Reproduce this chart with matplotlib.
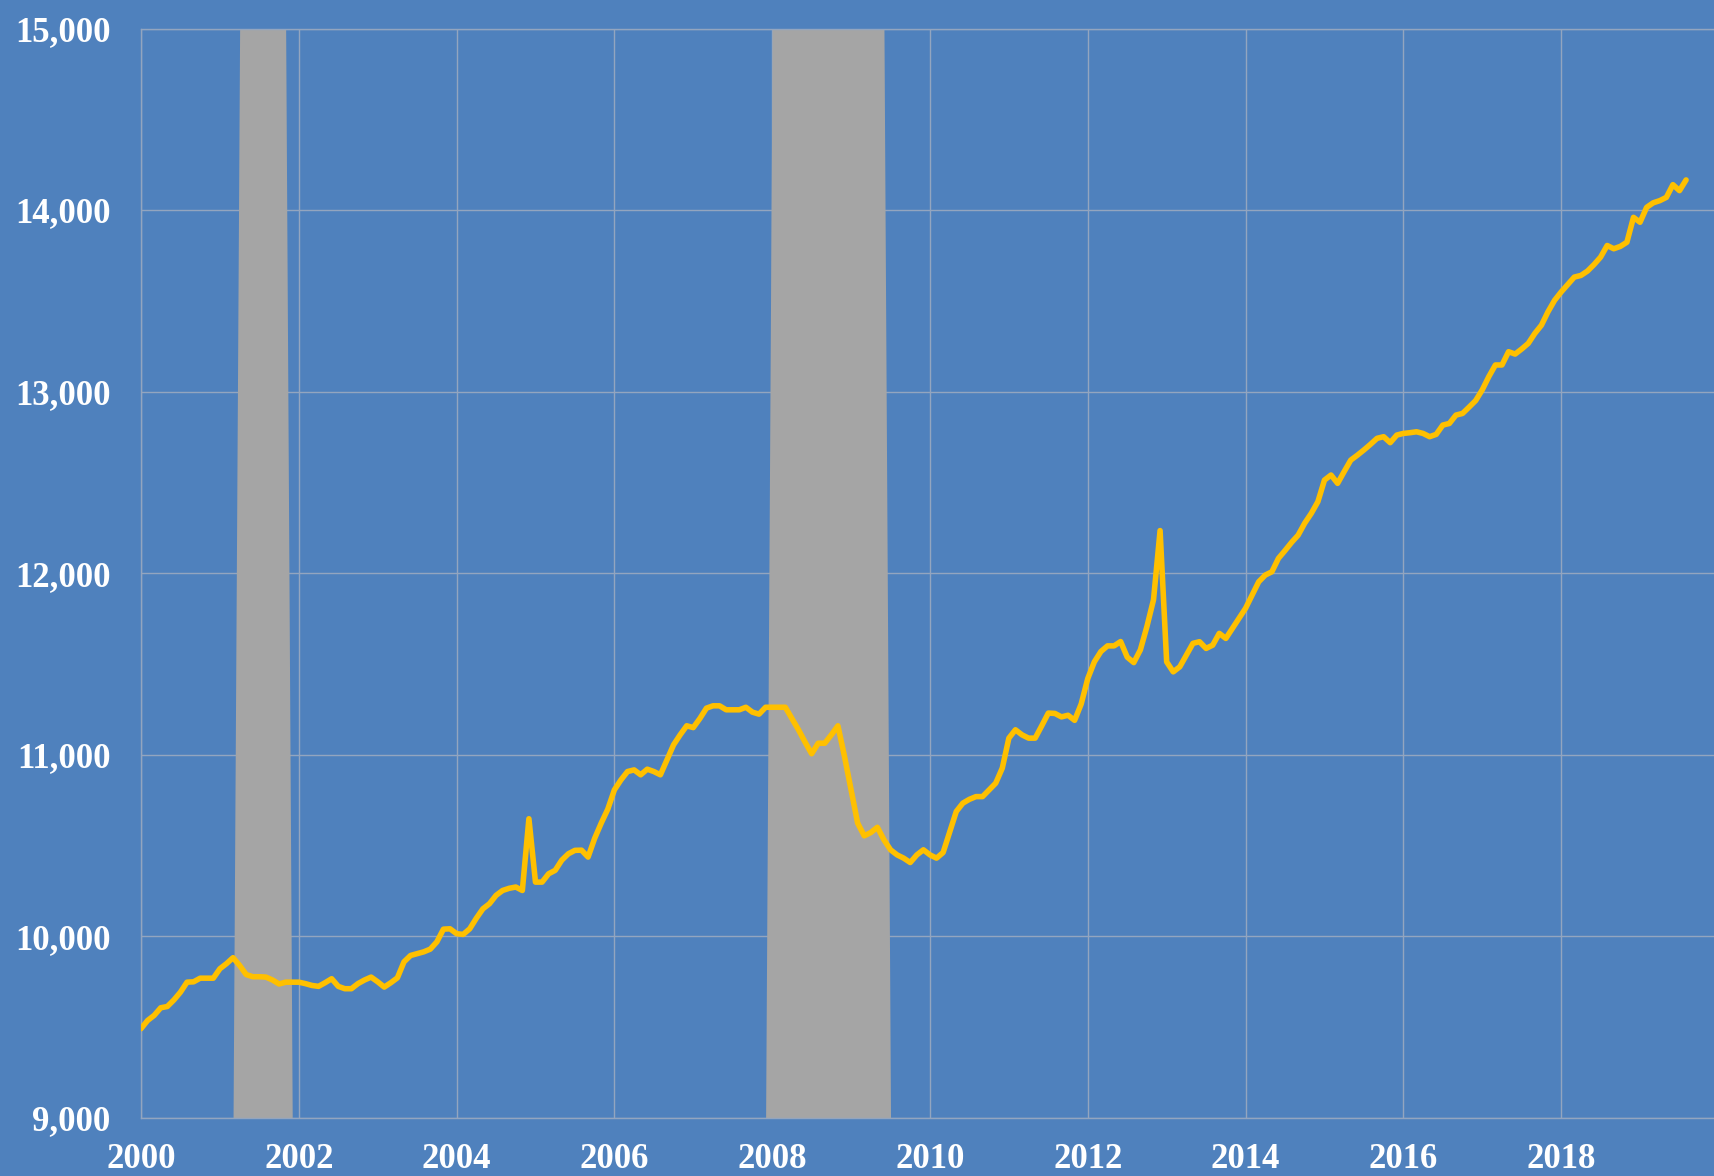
import matplotlib
matplotlib.use('Agg')
import matplotlib.pyplot as plt
from matplotlib.ticker import FuncFormatter
import numpy as np

# monthly values, Jan 2000 .. Aug 2019
y2000 = [9492, 9537, 9565, 9607, 9614, 9650, 9693, 9748, 9750, 9770, 9770, 9770]
y2001 = [9822, 9850, 9883, 9840, 9790, 9778, 9778, 9776, 9760, 9738, 9748, 9748]
y2002 = [9748, 9740, 9730, 9725, 9745, 9767, 9725, 9712, 9712, 9740, 9760, 9776]
y2003 = [9750, 9721, 9745, 9772, 9860, 9895, 9905, 9915, 9930, 9970, 10040, 10042]
y2004 = [10015, 10011, 10042, 10100, 10152, 10180, 10226, 10253, 10265, 10272, 10253, 10648]
y2005 = [10299, 10299, 10345, 10364, 10420, 10455, 10474, 10475, 10437, 10540, 10624, 10701]
y2006 = [10807, 10862, 10908, 10917, 10890, 10921, 10908, 10890, 10972, 11055, 11110, 11160]
y2007 = [11150, 11200, 11257, 11270, 11270, 11248, 11248, 11248, 11262, 11235, 11224, 11262]
y2008 = [11262, 11262, 11262, 11200, 11138, 11070, 11006, 11064, 11064, 11110, 11160, 10991]
y2009 = [10807, 10624, 10554, 10572, 10601, 10532, 10477, 10449, 10431, 10407, 10449, 10477]
y2010 = [10449, 10431, 10462, 10575, 10688, 10734, 10755, 10770, 10770, 10807, 10844, 10927]
y2011 = [11092, 11138, 11110, 11092, 11092, 11160, 11230, 11228, 11209, 11218, 11190, 11280]
y2012 = [11420, 11512, 11569, 11600, 11600, 11624, 11538, 11508, 11578, 11707, 11854, 12235]
y2013 = [11512, 11457, 11485, 11550, 11614, 11623, 11586, 11604, 11669, 11641, 11696, 11750]
y2014 = [11807, 11880, 11953, 11990, 12008, 12082, 12125, 12170, 12210, 12276, 12330, 12394]
y2015 = [12513, 12541, 12495, 12560, 12623, 12650, 12679, 12710, 12743, 12752, 12719, 12761]
y2016 = [12770, 12774, 12779, 12770, 12752, 12765, 12816, 12825, 12871, 12880, 12915, 12951]
y2017 = [13010, 13083, 13147, 13147, 13220, 13207, 13235, 13266, 13321, 13366, 13440, 13503]
y2018 = [13549, 13590, 13631, 13640, 13664, 13700, 13741, 13805, 13787, 13800, 13823, 13960]
y2019 = [13933, 14015, 14040, 14052, 14070, 14140, 14107, 14166]

# recession months (first, last) as (year, month)
rec_periods = [((2001, 4), (2001, 11)), ((2008, 1), (2009, 6))]

year_ticks = list(range(2000, 2019, 2))
value_ticks = list(range(9000, 15001, 1000))

values = np.array(y2000 + y2001 + y2002 + y2003 + y2004 + y2005 + y2006 + y2007
                  + y2008 + y2009 + y2010 + y2011 + y2012 + y2013 + y2014
                  + y2015 + y2016 + y2017 + y2018 + y2019, dtype=float)
n = len(values)
dates = 2000 + np.arange(n) / 12.0

rec = np.zeros(n)
for (y0, m0), (y1, m1) in rec_periods:
    i0 = (y0 - 2000) * 12 + m0 - 1
    i1 = (y1 - 2000) * 12 + m1 - 1
    rec[i0:i1 + 1] = 1

bg = '#4F81BD'
grid_c = '#93A5BF'

fig = plt.figure(figsize=(17.15, 11.76), dpi=100, facecolor=bg)
ax = fig.add_axes([141 / 1715, 1 - 1118 / 1176, 1 - 141 / 1715, (1118 - 28.5) / 1176])
ax.set_facecolor(bg)

ax.fill_between(dates, 0, rec, transform=ax.get_xaxis_transform(),
                color='#A5A5A5', lw=0, zorder=1)
ax.plot(dates, values, color='#FFC000', lw=4.0, zorder=3,
        solid_joinstyle='round', solid_capstyle='round')

ax.set_xlim(2000, 2019.95)
ax.set_ylim(9000, 15000)
ax.set_xticks(year_ticks)
ax.set_yticks(value_ticks)
ax.yaxis.set_major_formatter(FuncFormatter(lambda v, p: '{:,.0f}'.format(v)))

ax.set_axisbelow(True)
ax.grid(True, color=grid_c, lw=1)
for s in ['top', 'left', 'bottom']:
    ax.spines[s].set_color(grid_c)
    ax.spines[s].set_linewidth(1)
ax.spines['right'].set_visible(False)

ax.tick_params(length=0, colors='white')
ax.tick_params(axis='y', pad=22)
ax.tick_params(axis='x', pad=18)
for lab in ax.get_xticklabels() + ax.get_yticklabels():
    lab.set_family('Liberation Serif')
    lab.set_fontweight('bold')
    lab.set_fontsize(25)
    lab.set_color('white')

fig.savefig('out.png', dpi=100, facecolor=bg)
